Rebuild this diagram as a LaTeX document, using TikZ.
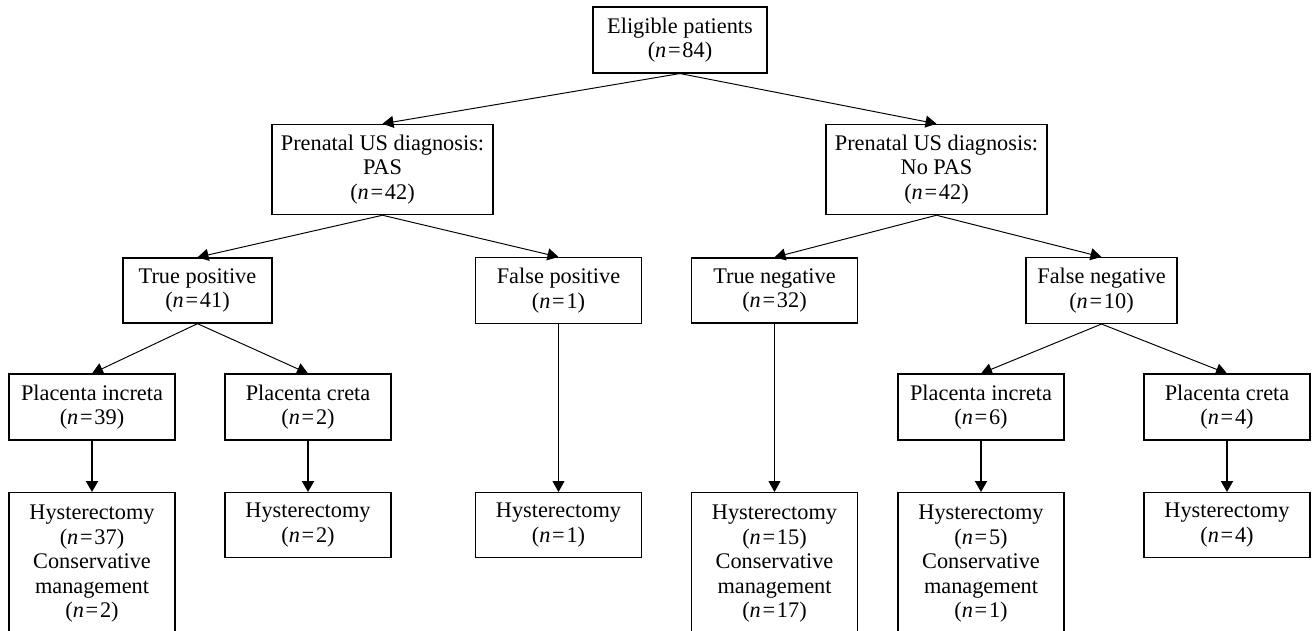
\documentclass[tikz,border=0pt]{standalone}
\usepackage{fontspec}
\setmainfont{Liberation Serif}
\usepackage{tikz}
\usetikzlibrary{positioning}
\usetikzlibrary{arrows.meta}
\newcommand{\ncount}[1]{(\textit{n}\kern1pt=\kern1pt#1)}

\begin{document}
\begin{tikzpicture}[x=0.02cm, y=-0.02cm,
    box/.style={draw, line width=0.75pt, align=center, inner xsep=2pt, inner ysep=6pt,
        font=\fontsize{12.7}{13.9}\selectfont},
    wbox/.style={box, minimum width=4.42cm},
    mbox/.style={box, minimum width=3.32cm},
    tallbox/.style={mbox, minimum height=2.84cm},
    link/.style={-{Triangle[length=2.2mm,width=2.4mm]}, line width=0.55pt},
    thick link/.style={link, line width=1.15pt}]
    \useasboundingbox (0,0) rectangle (1312,630);
    \clip (0,0) rectangle (1312,630);

    % top
    \node[box, minimum width=3.48cm] (elig) at (680,40) {Eligible patients\\\ncount{84}};

    % ultrasound diagnosis
    \node[wbox] (pas) at (382.5,169.5) {Prenatal US diagnosis:\\PAS\\\ncount{42}};
    \node[wbox] (nopas) at (936.5,169.5) {Prenatal US diagnosis:\\No PAS\\\ncount{42}};

    % outcome of diagnosis
    \node[box, minimum width=2.98cm] (tp) at (197.5,290.5) {True positive\\\ncount{41}};
    \node[mbox] (fp) at (558.5,290.5) {False positive\\\ncount{1}};
    \node[mbox] (tn) at (774.5,290.5) {True negative\\\ncount{32}};
    \node[box, minimum width=3.02cm] (fn) at (1101.5,290.5) {False negative\\\ncount{10}};

    % placenta type
    \node[mbox] (inc1) at (92,407) {Placenta increta\\\ncount{39}};
    \node[mbox] (cre1) at (308,407) {Placenta creta\\\ncount{2}};
    \node[mbox] (inc2) at (981,407) {Placenta increta\\\ncount{6}};
    \node[mbox] (cre2) at (1227,407) {Placenta creta\\\ncount{4}};

    % management
    \node[tallbox, anchor=north] (hys1) at (92,492) {Hysterectomy\\\ncount{37}\\Conservative\\management\\\ncount{2}};
    \node[mbox, anchor=north] (hys2) at (308,492) {Hysterectomy\\\ncount{2}};
    \node[mbox, anchor=north] (hys3) at (558.5,492) {Hysterectomy\\\ncount{1}};
    \node[tallbox, anchor=north] (hys4) at (774.5,492) {Hysterectomy\\\ncount{15}\\Conservative\\management\\\ncount{17}};
    \node[tallbox, anchor=north] (hys5) at (981,492) {Hysterectomy\\\ncount{5}\\Conservative\\management\\\ncount{1}};
    \node[mbox, anchor=north] (hys6) at (1227,492) {Hysterectomy\\\ncount{4}};

    \draw[link] (elig.south) -- (pas.north);
    \draw[link] (elig.south) -- (nopas.north);
    \draw[link] (pas.south) -- (tp.north);
    \draw[link] (pas.south) -- (fp.north);
    \draw[link] (nopas.south) -- (tn.north);
    \draw[link] (nopas.south) -- (fn.north);
    \draw[link] (tp.south) -- (inc1.north);
    \draw[link] (tp.south) -- (cre1.north);
    \draw[link] (fn.south) -- (inc2.north);
    \draw[link] (fn.south) -- (cre2.north);
    \draw[link] (fp.south) -- (hys3.north);
    \draw[link] (tn.south) -- (hys4.north);
    \draw[thick link] (inc1.south) -- (hys1.north);
    \draw[thick link] (cre1.south) -- (hys2.north);
    \draw[thick link] (inc2.south) -- (hys5.north);
    \draw[thick link] (cre2.south) -- (hys6.north);
\end{tikzpicture}
\end{document}
